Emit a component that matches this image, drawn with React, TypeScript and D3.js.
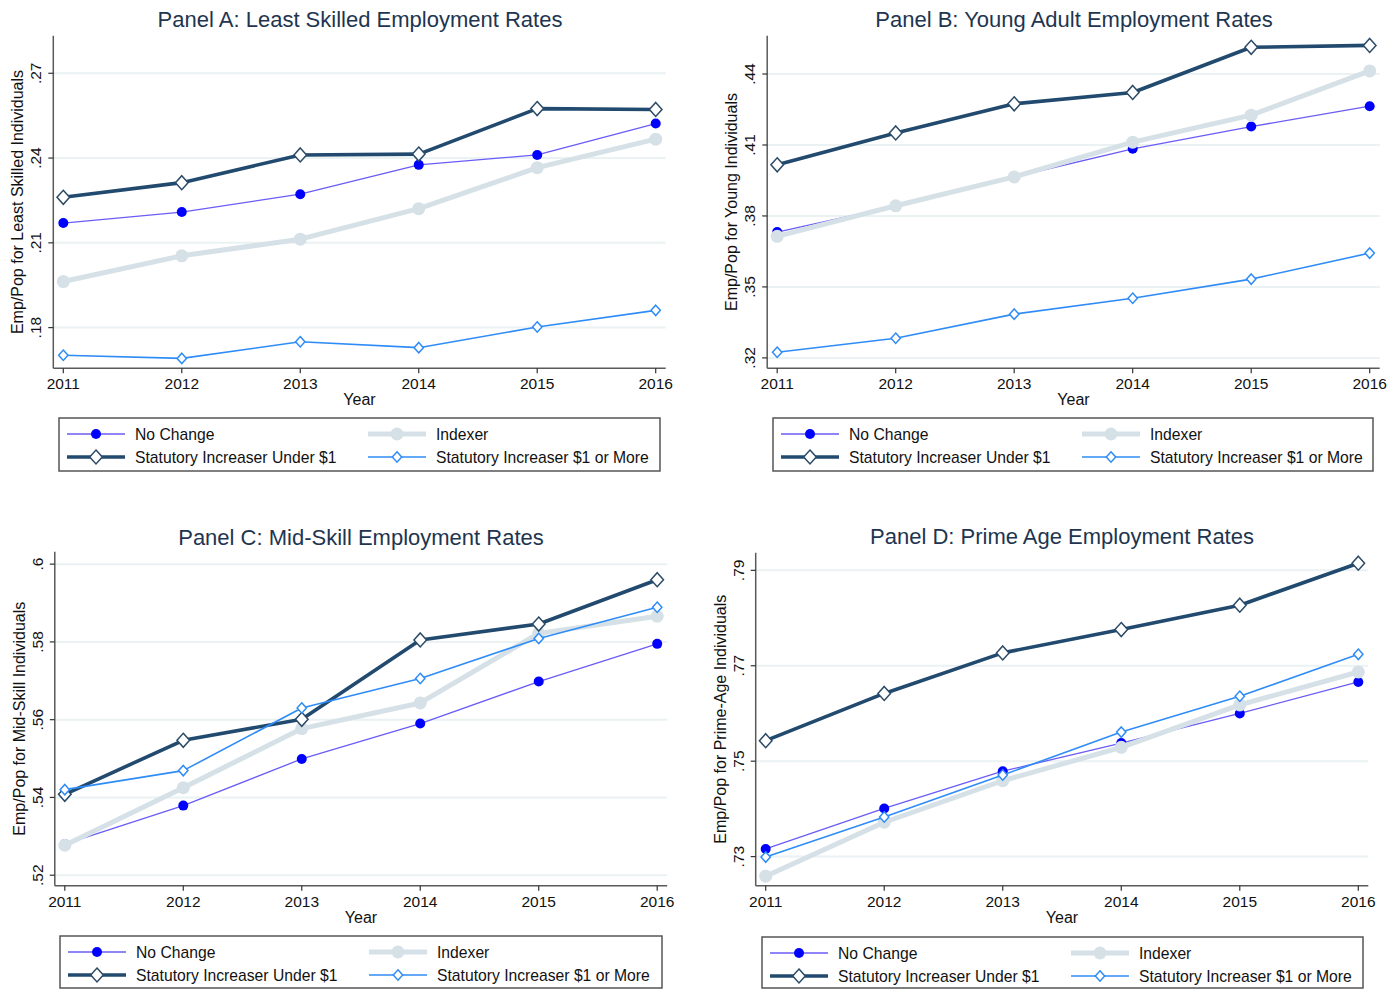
import React, { useEffect } from "react";
import * as d3 from "d3";

const years = [2011, 2012, 2013, 2014, 2015, 2016];
const seriesNames = [
  "No Change",
  "Indexer",
  "Statutory Increaser Under $1",
  "Statutory Increaser $1 or More",
];

// Panel A: least skilled
const aNoChange = [0.217, 0.2209, 0.2272, 0.2376, 0.2411, 0.2522];
const aIndexer = [0.1963, 0.2054, 0.2113, 0.2221, 0.2366, 0.2467];
const aUnder1 = [0.2261, 0.2313, 0.2411, 0.2414, 0.2575, 0.2572];
const aOver1 = [0.1702, 0.1691, 0.175, 0.1729, 0.1802, 0.1861];
const aTicks = [0.18, 0.21, 0.24, 0.27];

// Panel B: young adults
const bNoChange = [0.3732, 0.3843, 0.3965, 0.4084, 0.4178, 0.4264];
const bIndexer = [0.3714, 0.3843, 0.3965, 0.4112, 0.4226, 0.4413];
const bUnder1 = [0.4016, 0.4151, 0.4274, 0.4322, 0.4513, 0.4521];
const bOver1 = [0.3224, 0.3283, 0.3385, 0.3452, 0.3533, 0.3643];
const bTicks = [0.32, 0.35, 0.38, 0.41, 0.44];

// Panel C: mid-skill
const cNoChange = [0.528, 0.5379, 0.5499, 0.559, 0.5698, 0.5795];
const cIndexer = [0.5277, 0.5425, 0.5577, 0.5643, 0.5822, 0.5866];
const cUnder1 = [0.5408, 0.5547, 0.5601, 0.5805, 0.5846, 0.596];
const cOver1 = [0.542, 0.5469, 0.563, 0.5706, 0.5809, 0.5889];
const cTicks = [0.52, 0.54, 0.56, 0.58, 0.6];

// Panel D: prime age
const dNoChange = [0.7316, 0.7401, 0.7479, 0.7538, 0.76, 0.7666];
const dIndexer = [0.7259, 0.7372, 0.7459, 0.7529, 0.7618, 0.7687];
const dUnder1 = [0.7543, 0.7642, 0.7727, 0.7776, 0.7827, 0.7915];
const dOver1 = [0.7299, 0.7383, 0.7471, 0.7561, 0.7636, 0.7724];
const dTicks = [0.73, 0.75, 0.77, 0.79];

const FONT = "'Liberation Sans', Arial, sans-serif";

const styles = [
  { line: "#6a5cf6", width: 1.3, marker: "circle", r: 5, fill: "#0000ff", stroke: "none" },
  { line: "#d5e1e7", width: 5, marker: "circle", r: 6.5, fill: "#d5e1e7", stroke: "none" },
  { line: "#214a6e", width: 3.6, marker: "diamond", r: 7, fill: "#ffffff", stroke: "#2b4a66" },
  { line: "#2f8cf6", width: 1.6, marker: "diamond", r: 5.2, fill: "#ffffff", stroke: "#2f8cf6" },
];

const panels = [
  {
    title: "Panel A: Least Skilled Employment Rates",
    ytitle: "Emp/Pop for Least Skilled Individuals",
    series: [aNoChange, aIndexer, aUnder1, aOver1],
    ticks: aTicks,
    domain: [0.1656, 0.2833],
    x0: 63.3, x1: 655.7, top: 35.7, bottom: 368.3,
    titleX: 360, titleY: 27,
    legend: { x: 59, y: 418, w: 601, h: 53 },
  },
  {
    title: "Panel B: Young Adult Employment Rates",
    ytitle: "Emp/Pop for Young Individuals",
    series: [bNoChange, bIndexer, bUnder1, bOver1],
    ticks: bTicks,
    domain: [0.3156, 0.4562],
    x0: 777.2, x1: 1369.7, top: 35.7, bottom: 368.3,
    titleX: 1074, titleY: 27,
    legend: { x: 773, y: 418, w: 600, h: 53 },
  },
  {
    title: "Panel C: Mid-Skill Employment Rates",
    ytitle: "Emp/Pop for Mid-Skill Individuals",
    series: [cNoChange, cIndexer, cUnder1, cOver1],
    ticks: cTicks,
    domain: [0.5173, 0.6032],
    x0: 64.8, x1: 657.2, top: 551.7, bottom: 885.7,
    titleX: 361, titleY: 545,
    legend: { x: 60, y: 936, w: 602, h: 52 },
  },
  {
    title: "Panel D: Prime Age Employment Rates",
    ytitle: "Emp/Pop for Prime-Age Individuals",
    series: [dNoChange, dIndexer, dUnder1, dOver1],
    ticks: dTicks,
    domain: [0.7239, 0.7937],
    x0: 765.7, x1: 1358.3, top: 552.7, bottom: 885.7,
    titleX: 1062, titleY: 544,
    legend: { x: 762, y: 937, w: 601, h: 51 },
  },
];

const tickLabel = (v: number) => d3.format(".2f")(v).replace(/^0/, "").replace(/0$/, "");

const Marker = ({ x, y, s }: { x: number; y: number; s: any }) =>
  s.marker === "circle" ? (
    <circle cx={x} cy={y} r={s.r} fill={s.fill} />
  ) : (
    <path
      d={`M${x},${y - s.r}L${x + s.r * 0.9},${y}L${x},${y + s.r}L${x - s.r * 0.9},${y}Z`}
      fill={s.fill}
      stroke={s.stroke}
      strokeWidth={1.5}
    />
  );

const Panel = ({ p }: { p: any }) => {
  const x = d3.scaleLinear().domain([years[0], years[years.length - 1]]).range([p.x0, p.x1]);
  const y = d3.scaleLinear().domain(p.domain).range([p.bottom, p.top]);
  const axisX = p.x0 - 10;
  const right = p.x1 + 10;
  const line = d3
    .line<number>()
    .x((d, i) => x(years[i]))
    .y((d) => y(d));
  const L = p.legend;
  const keys = [
    { s: 0, cx: L.x + 8, tx: L.x + 76, cy: L.y + 16 },
    { s: 1, cx: L.x + 309, tx: L.x + 377, cy: L.y + 16 },
    { s: 2, cx: L.x + 8, tx: L.x + 76, cy: L.y + 39 },
    { s: 3, cx: L.x + 309, tx: L.x + 377, cy: L.y + 39 },
  ];

  return (
    <g fontFamily={FONT}>
      <text x={p.titleX} y={p.titleY} textAnchor="middle" fontSize={22} fill="#1e3550">
        {p.title}
      </text>
      {/* gridlines */}
      {p.ticks.map((t: number) => (
        <line key={t} x1={axisX} x2={right} y1={y(t)} y2={y(t)} stroke="#eaf2f3" strokeWidth={2} />
      ))}
      {/* axes */}
      <line x1={axisX} x2={axisX} y1={p.top} y2={p.bottom} stroke="#5a5a5a" strokeWidth={1.5} />
      <line x1={axisX} x2={right} y1={p.bottom} y2={p.bottom} stroke="#5a5a5a" strokeWidth={1.5} />
      {p.ticks.map((t: number) => (
        <g key={"yt" + t}>
          <line x1={axisX - 5} x2={axisX} y1={y(t)} y2={y(t)} stroke="#333" strokeWidth={1.2} />
          <text
            transform={`translate(${axisX - 12},${y(t)}) rotate(-90)`}
            textAnchor="middle"
            fontSize={15.5}
            fill="#111"
          >
            {tickLabel(t)}
          </text>
        </g>
      ))}
      {years.map((yr) => (
        <g key={yr}>
          <line x1={x(yr)} x2={x(yr)} y1={p.bottom} y2={p.bottom + 5} stroke="#333" strokeWidth={1.2} />
          <text x={x(yr)} y={p.bottom + 21} textAnchor="middle" fontSize={15.5} fill="#111">
            {yr}
          </text>
        </g>
      ))}
      <text x={(p.x0 + p.x1) / 2} y={p.bottom + 37} textAnchor="middle" fontSize={16} fill="#111">
        Year
      </text>
      <text
        transform={`translate(${axisX - 30},${(p.top + p.bottom) / 2}) rotate(-90)`}
        textAnchor="middle"
        fontSize={16}
        fill="#111"
      >
        {p.ytitle}
      </text>
      {/* series */}
      {p.series.map((vals: number[], si: number) => {
        const s = styles[si];
        return (
          <g key={si}>
            <path d={line(vals) || ""} fill="none" stroke={s.line} strokeWidth={s.width} strokeLinejoin="round" />
            {vals.map((v, i) => (
              <Marker key={i} x={x(years[i])} y={y(v)} s={s} />
            ))}
          </g>
        );
      })}
      {/* legend */}
      <rect x={L.x} y={L.y} width={L.w} height={L.h} fill="#fff" stroke="#555" strokeWidth={1.5} />
      {keys.map((k) => {
        const s = styles[k.s];
        return (
          <g key={k.s}>
            <line x1={k.cx} x2={k.cx + 58} y1={k.cy} y2={k.cy} stroke={s.line} strokeWidth={s.width} />
            <Marker x={k.cx + 29} y={k.cy} s={s} />
            <text x={k.tx} y={k.cy + 5.5} fontSize={15.7} fill="#111">
              {seriesNames[k.s]}
            </text>
          </g>
        );
      })}
    </g>
  );
};

export default function App() {
  useEffect(() => {
    document.body.style.margin = "0";
  }, []);
  return (
    <svg width={1388} height={994} style={{ display: "block", background: "#fff" }}>
      {panels.map((p, i) => (
        <Panel key={i} p={p} />
      ))}
    </svg>
  );
}
